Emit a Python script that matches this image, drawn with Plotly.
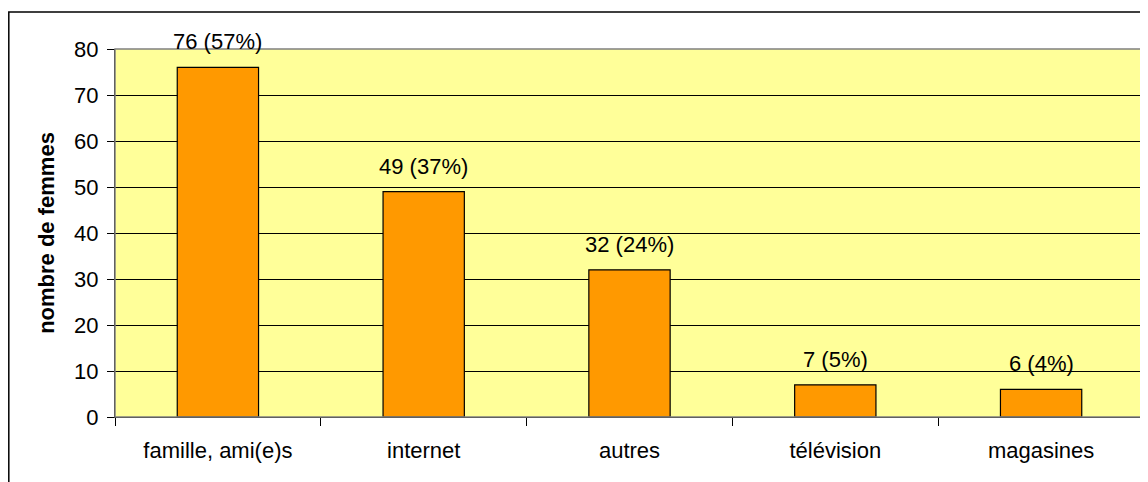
import plotly.graph_objects as go

categories = ["famille, ami(e)s", "internet", "autres", "télévision", "magasines"]
counts = [76, 49, 32, 7, 6]
percents = [57, 37, 24, 5, 4]
y_ticks = [0, 10, 20, 30, 40, 50, 60, 70, 80]

FONT = "Liberation Sans, Arial, sans-serif"

fig = go.Figure()
fig.add_trace(go.Bar(
    x=categories, y=counts,
    marker=dict(color="#FF9900", line=dict(color="#000000", width=1.2)),
    width=0.395,
    hoverinfo="skip",
))

# data labels above each bar
for cat, n, p in zip(categories, counts, percents):
    fig.add_annotation(x=cat, y=n, text=f"{n} ({p}%)", showarrow=False,
                       yanchor="bottom", yshift=11,
                       font=dict(family=FONT, size=22, color="#000000"))

# grey frame on top/right of plot area
fig.add_shape(type="rect", xref="x domain", yref="y domain", x0=0, x1=1, y0=0, y1=1,
              line=dict(color="#808080", width=1.5), layer="above")
# outer chart border
fig.add_shape(type="rect", xref="paper", yref="paper",
              x0=-0.1032, x1=1.01, y0=-0.25, y1=1.1005,
              line=dict(color="#000000", width=1.5))

# page body adds an 8px margin, so the figure is 8px smaller than the window
fig.update_layout(
    width=1140, height=474,
    margin=dict(l=107, r=4, t=41, b=65),
    paper_bgcolor="#FFFFFF",
    plot_bgcolor="#FFFF99",
    showlegend=False,
    font=dict(family=FONT, size=22, color="#000000"),
)
fig.update_xaxes(
    showline=True, linecolor="#000000", linewidth=1,
    ticks="outside", tickson="boundaries", ticklen=8, tickcolor="#000000",
    showgrid=False, tickfont=dict(size=22), ticklabelstandoff=14,
)
fig.update_yaxes(
    range=[0, 80], tickvals=y_ticks,
    showline=True, linecolor="#000000", linewidth=1,
    ticks="outside", ticklen=7, tickcolor="#000000",
    showgrid=True, gridcolor="#000000", gridwidth=1,
    zeroline=False, tickfont=dict(size=22), ticklabelstandoff=4,
    title=dict(text="<b>nombre de femmes</b>", font=dict(size=22), standoff=13),
)

fig.write_html("out.html")
